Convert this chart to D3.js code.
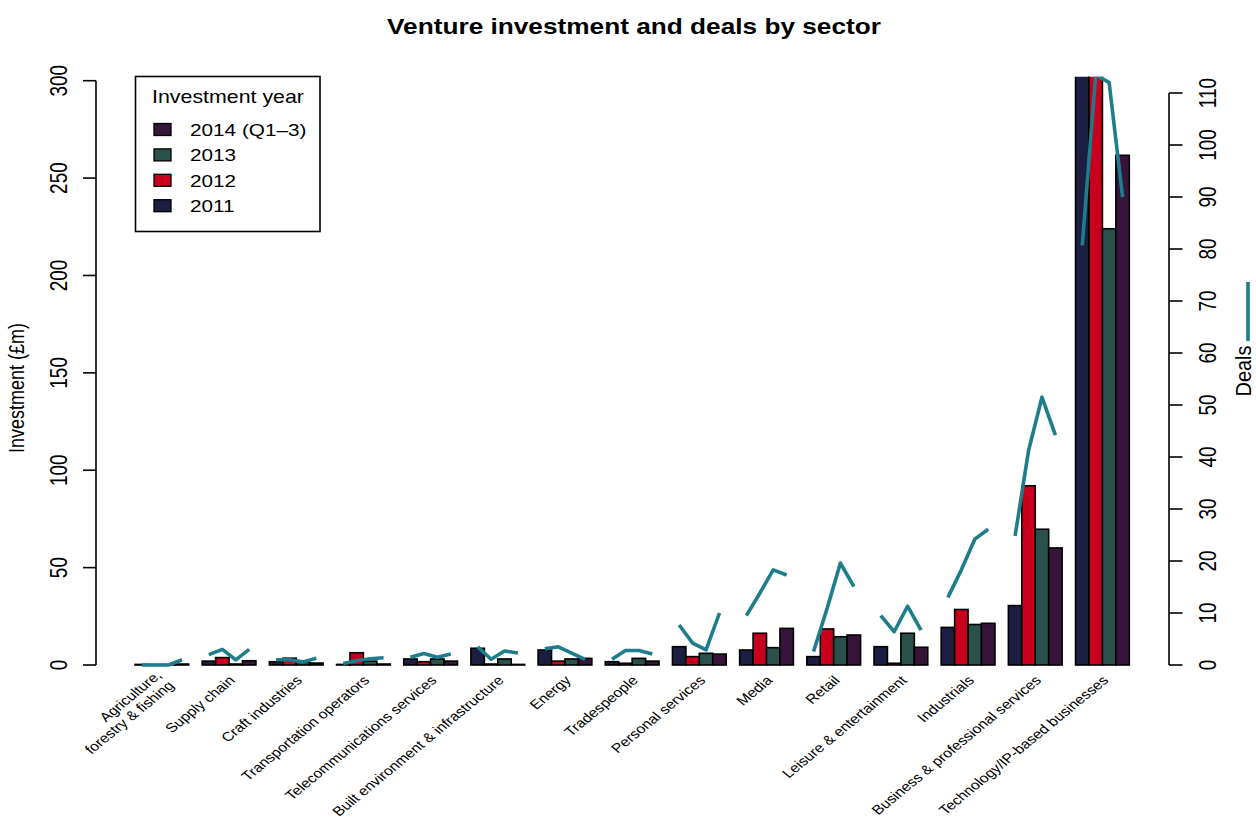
<!DOCTYPE html>
<html>
<head>
<meta charset="utf-8">
<script src="https://cdn.jsdelivr.net/npm/d3@7"></script>
<style>
  html, body { margin: 0; padding: 0; background: #fff; }
  svg { display: block; font-family: "Liberation Sans", Arial, Helvetica, sans-serif; }
</style>
</head>
<body>
<svg id="chart" width="1256" height="821"></svg>
<script>
// data
const sectors = [
    "Agriculture,\nforestry & fishing", "Supply chain", "Craft industries",
    "Transportation operators", "Telecommunications services",
    "Built environment & infrastructure", "Energy", "Tradespeople",
    "Personal services", "Media", "Retail", "Leisure & entertainment",
    "Industrials", "Business & professional services", "Technology/IP-based businesses"
];
const years = ["2011", "2012", "2013", "2014 (Q1–3)"];

// investment, £m (tech 2011/2012 run off the top of the plot)
const inv2011 = [0.3, 2.0, 1.7, 0.3, 3.1, 8.6, 7.7, 1.7, 9.4, 7.7, 4.3, 9.4, 19.3, 30.5, 320];
const inv2012 = [0.2, 3.8, 3.5, 6.3, 1.7, 0.5, 2.0, 0.9, 4.3, 16.3, 18.5, 0.9, 28.5, 92.0, 310];
const inv2013 = [0.2, 0.5, 1.5, 2.0, 3.1, 3.1, 3.1, 3.4, 6.0, 8.9, 14.5, 16.3, 20.8, 69.7, 224];
const inv2014 = [0.5, 2.2, 1.0, 0.5, 2.0, 0.3, 3.4, 2.0, 5.6, 18.8, 15.4, 9.1, 21.4, 60.1, 261.7];

// number of deals
const deals2011 = [0, 2, 1, 0.3, 1.5, 3.5, 3.1, 1.1, 7.7, 9.5, 2.6, 9.5, 13.0, 24.8, 80.7];
const deals2012 = [0, 3, 1, 0.8, 2.2, 1.1, 3.5, 2.8, 4.2, 13.8, 10.8, 6.4, 18.3, 41.2, 113.5];
const deals2013 = [0, 1, 0.6, 1.2, 1.5, 2.7, 2.3, 2.8, 2.9, 18.3, 19.6, 11.3, 24.2, 51.5, 112];
const deals2014 = [1, 3, 1.3, 1.4, 2.1, 2.3, 1.1, 2.1, 10.0, 17.3, 15.1, 6.7, 26.1, 44.2, 90];

const invTicks = [0, 50, 100, 150, 200, 250, 300];
const dealTicks = d3.range(0, 111, 10);

const colors = ["#1c1e41", "#c8001e", "#2a514c", "#37153b"];
const dealColor = "#1d7d8a";

const invSeries = [inv2011, inv2012, inv2013, inv2014];
const dealSeries = [deals2011, deals2012, deals2013, deals2014];

// the picture is stretched sideways, text gets the same stretch
const SX = 1.22;

const svg = d3.select("#chart");
const W = +svg.attr("width");

// bar slots: each sector = 4 bars + 1 gap, first group starts at unit 1
const x = d3.scaleLinear().domain([1, 75]).range([135, 1129.3]);
const yInv = d3.scaleLinear().domain([0, 300]).range([665, 80.7]);
const yDeal = d3.scaleLinear().domain([0, 110]).range([665, 93]);
const plotTop = 76.7;

svg.append("defs").append("clipPath").attr("id", "plotclip")
    .append("rect").attr("x", 0).attr("y", plotTop).attr("width", W).attr("height", 700);

// title
svg.append("text")
    .attr("transform", `translate(${W / 2 + 6},34) scale(${SX},1)`)
    .attr("text-anchor", "middle")
    .attr("font-weight", "bold")
    .attr("font-size", 21.5)
    .text("Venture investment and deals by sector");

// ----- BARS -----
const bars = [];
sectors.forEach((s, i) => {
    invSeries.forEach((arr, j) => {
        bars.push({ i, j, v: arr[i], x0: 1 + 5 * i + j });
    });
});

const plot = svg.append("g").attr("clip-path", "url(#plotclip)");

plot.selectAll("rect.bar")
    .data(bars)
    .enter().append("rect")
    .attr("class", "bar")
    .attr("x", d => x(d.x0))
    .attr("width", d => x(d.x0 + 1) - x(d.x0))
    .attr("y", d => yInv(d.v))
    .attr("height", d => yInv(0) - yInv(d.v))
    .attr("fill", d => colors[d.j])
    .attr("stroke", "#000")
    .attr("stroke-width", 1.6);

// ----- DEAL LINES (one polyline per sector) -----
const line = d3.line()
    .x(d => x(d.x0 + 0.5))
    .y(d => yDeal(d.v));

plot.selectAll("path.deals")
    .data(sectors.map((s, i) => dealSeries.map((arr, j) => ({ x0: 1 + 5 * i + j, v: arr[i] }))))
    .enter().append("path")
    .attr("class", "deals")
    .attr("fill", "none")
    .attr("stroke", dealColor)
    .attr("stroke-width", 3.6)
    .attr("stroke-linejoin", "round")
    .attr("d", line);

// ----- LEFT AXIS -----
const left = svg.append("g");
left.append("line")
    .attr("x1", 96).attr("x2", 96)
    .attr("y1", yInv(0)).attr("y2", yInv(300))
    .attr("stroke", "#000").attr("stroke-width", 1.6);
left.selectAll("line.tick").data(invTicks).enter().append("line")
    .attr("x1", 83).attr("x2", 96)
    .attr("y1", d => yInv(d)).attr("y2", d => yInv(d))
    .attr("stroke", "#000").attr("stroke-width", 1.6);
left.selectAll("text").data(invTicks).enter().append("text")
    .attr("transform", d => `translate(67,${yInv(d)}) scale(${SX},1) rotate(-90)`)
    .attr("text-anchor", "middle")
    .attr("font-size", 19)
    .text(d => d);

svg.append("text")
    .attr("transform", `translate(24,388) scale(${SX},1) rotate(-90)`)
    .attr("text-anchor", "middle")
    .attr("font-size", 18)
    .text("Investment (£m)");

// ----- RIGHT AXIS -----
const right = svg.append("g");
right.append("line")
    .attr("x1", 1169).attr("x2", 1169)
    .attr("y1", yDeal(0)).attr("y2", yDeal(110))
    .attr("stroke", "#000").attr("stroke-width", 1.6);
right.selectAll("line.tick").data(dealTicks).enter().append("line")
    .attr("x1", 1169).attr("x2", 1182.5)
    .attr("y1", d => yDeal(d)).attr("y2", d => yDeal(d))
    .attr("stroke", "#000").attr("stroke-width", 1.6);
right.selectAll("text").data(dealTicks).enter().append("text")
    .attr("transform", d => `translate(1216,${yDeal(d)}) scale(${SX},1) rotate(-90)`)
    .attr("text-anchor", "middle")
    .attr("font-size", 19)
    .text(d => d);

// "Deals" key on the right edge
svg.append("text")
    .attr("transform", `translate(1250.5,371) scale(1.1,1) rotate(-90)`)
    .attr("text-anchor", "middle")
    .attr("font-size", 20)
    .text("Deals");
svg.append("line")
    .attr("x1", 1248).attr("x2", 1248)
    .attr("y1", 282).attr("y2", 341)
    .attr("stroke", dealColor).attr("stroke-width", 3.6);

// ----- X LABELS -----
const xl = svg.append("g");
sectors.forEach((s, i) => {
    const cx = x(1 + 5 * i + 2) + 3;
    const t = xl.append("text")
        .attr("transform", `translate(${cx},678) scale(${SX},1) rotate(-45)`)
        .attr("text-anchor", "end")
        .attr("font-size", 13);
    const parts = s.split("\n");
    parts.forEach((p, k) => {
        t.append("tspan")
            .attr("x", 0)
            .attr("dy", k === 0 ? (0.35 - 0.55 * (parts.length - 1)) + "em" : "1.1em")
            .text(p);
    });
});

// ----- LEGEND -----
const lg = svg.append("g");
lg.append("rect")
    .attr("x", 135.5).attr("y", 76.5)
    .attr("width", 184.5).attr("height", 155)
    .attr("fill", "#fff").attr("stroke", "#000").attr("stroke-width", 1.6);
lg.append("text")
    .attr("transform", `translate(228,103) scale(${SX},1)`)
    .attr("text-anchor", "middle")
    .attr("font-size", 17.5)
    .text("Investment year");

const legendRows = [3, 2, 1, 0];
legendRows.forEach((j, k) => {
    const cy = 129.5 + k * 25.4;
    lg.append("rect")
        .attr("x", 154).attr("y", cy - 6)
        .attr("width", 17).attr("height", 12)
        .attr("fill", colors[j]).attr("stroke", "#000").attr("stroke-width", 1.3);
    lg.append("text")
        .attr("transform", `translate(190,${cy + 6.3}) scale(${SX},1)`)
        .attr("font-size", 17)
        .text(years[j]);
});
</script>
</body>
</html>
